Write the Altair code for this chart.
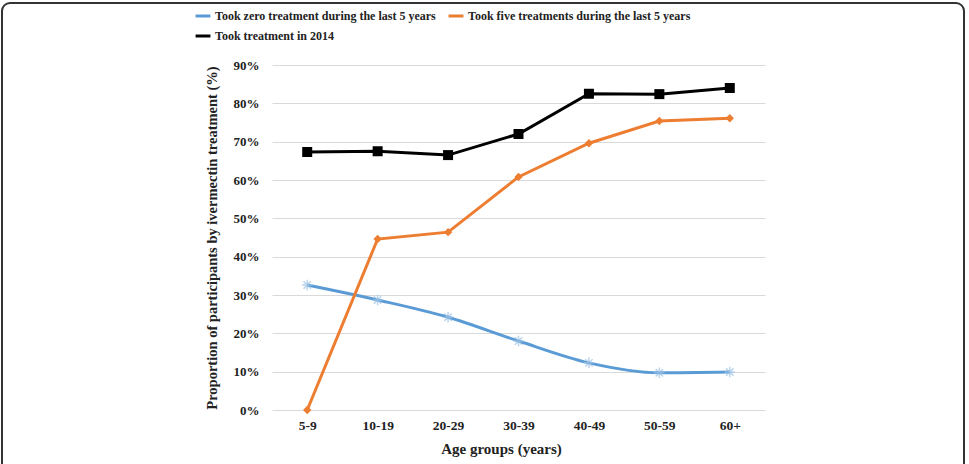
import altair as alt
import pandas as pd

ages = ["5-9", "10-19", "20-29", "30-39", "40-49", "50-59", "60+"]
zero_treat = [32.6, 28.7, 24.2, 18.0, 12.3, 9.7, 9.9]
five_treat = [0.0, 44.6, 46.4, 60.8, 69.6, 75.4, 76.1]
treat_2014 = [67.3, 67.5, 66.5, 72.0, 82.5, 82.4, 84.0]

s_zero = "Took zero treatment during the last 5 years"
s_five = "Took five treatments during the last 5 years"
s_2014 = "Took treatment in 2014"
series_names = [s_zero, s_five, s_2014]
series_colors = ["#5B9BD5", "#ED7D31", "#000000"]

rows = []
for name, vals in zip(series_names, [zero_treat, five_treat, treat_2014]):
    for a, v in zip(ages, vals):
        rows.append({"age": a, "series": name, "value": v / 100})
df = pd.DataFrame(rows)

FONT = "'Liberation Serif', 'DejaVu Serif', serif"

x_enc = alt.X("age:N", sort=ages, title="Age groups (years)",
              scale=alt.Scale(paddingInner=0, paddingOuter=0.5),
              axis=alt.Axis(labelAngle=0, ticks=False, domain=False, grid=False,
                            labelFont=FONT, labelFontWeight="bold", labelFontSize=13.5,
                            labelColor="#222", labelPadding=8,
                            titleFont=FONT, titleFontWeight="bold", titleFontSize=15,
                            titleColor="#222", titlePadding=10, titleX=229))
y_enc = alt.Y("value:Q", title="Proportion of participants by ivermectin treatment (%)",
              scale=alt.Scale(domain=[0, 0.9], nice=False),
              axis=alt.Axis(format=".0%", values=[i / 10 for i in range(10)],
                            ticks=False, domain=False, grid=True, gridColor="#d9d9d9",
                            labelFont=FONT, labelFontWeight="bold", labelFontSize=13,
                            labelColor="#222", labelPadding=13,
                            titleFont=FONT, titleFontWeight="bold", titleFontSize=14.5,
                            titleColor="#222", titlePadding=14))

color_enc = alt.Color("series:N",
                      scale=alt.Scale(domain=series_names, range=series_colors),
                      legend=alt.Legend(title=None, orient="none", legendX=-78, legendY=-58,
                                        columns=2, direction="horizontal",
                                        symbolType="stroke", symbolStrokeWidth=3,
                                        symbolSize=220, columnPadding=6, rowPadding=5,
                                        labelOffset=3,
                                        labelFont=FONT, labelFontWeight="bold",
                                        labelFontSize=12, labelColor="#222",
                                        labelLimit=400))

base = alt.Chart(df)

line_smooth = base.transform_filter(alt.datum.series == s_zero).mark_line(
    strokeWidth=3, interpolate="monotone").encode(x=x_enc, y=y_enc, color=color_enc)
lines_straight = base.transform_filter(alt.datum.series != s_zero).mark_line(
    strokeWidth=3).encode(x=x_enc, y=y_enc, color=color_enc)

asterisk = "M-1,0L1,0M0,-1L0,1M-0.7,-0.7L0.7,0.7M-0.7,0.7L0.7,-0.7"
pts_zero = base.transform_filter(alt.datum.series == s_zero).mark_point(
    shape=asterisk, size=110, color="#9DC3E6", strokeWidth=1.5, filled=False
).encode(x=x_enc, y=y_enc)
pts_five = base.transform_filter(alt.datum.series == s_five).mark_point(
    shape="diamond", size=70, color="#ED7D31", filled=True, opacity=1
).encode(x=x_enc, y=y_enc)
pts_2014 = base.transform_filter(alt.datum.series == s_2014).mark_point(
    shape="square", size=100, color="#000000", filled=True, opacity=1
).encode(x=x_enc, y=y_enc)

frame = alt.Chart(pd.DataFrame({"k": [0]})).mark_rect(
    fill=None, stroke="#333", strokeWidth=2, cornerRadius=8, clip=False
).encode(x=alt.value(-270), x2=alt.value(692), y=alt.value(-62), y2=alt.value(430))

chart = alt.layer(frame, line_smooth, lines_straight, pts_zero, pts_five, pts_2014).properties(
    width=493, height=345,
    autosize=alt.AutoSizeParams(type="none"),
    padding={"left": 272, "top": 65, "right": 204, "bottom": 54},
    background="white",
).configure_view(stroke=None)

chart.save("out.html", embed_options={"renderer": "svg", "actions": False})
